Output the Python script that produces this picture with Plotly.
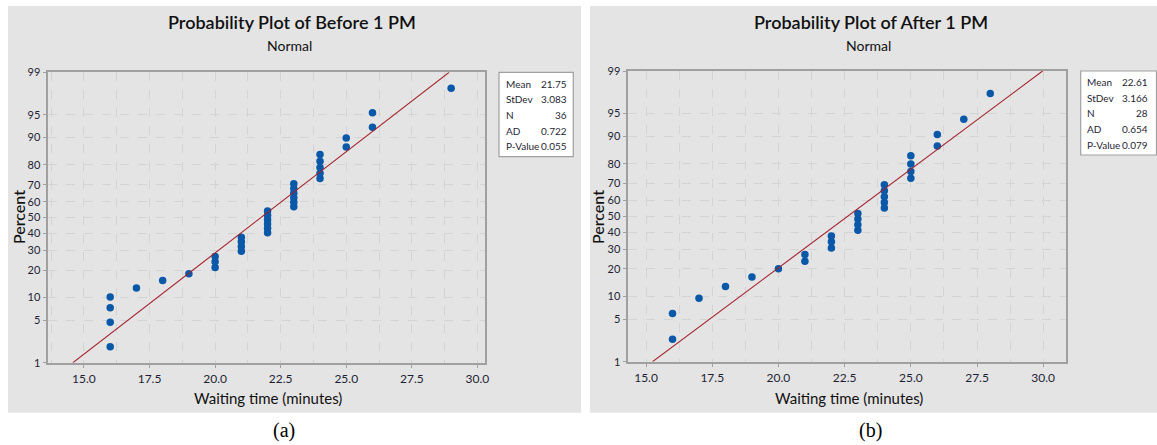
import plotly.graph_objects as go
from statistics import NormalDist

W, H = 1157, 445

# ---------------- data ----------------
before_time = [16, 16, 16, 16, 17, 18, 19, 20, 20, 20, 21, 21, 21, 21,
               22, 22, 22, 22, 22, 22, 23, 23, 23, 23, 23, 23,
               24, 24, 24, 24, 24, 25, 25, 26, 26, 29]
before_pct = [1.92, 4.67, 7.42, 10.16, 12.91, 15.66, 18.41, 21.15, 23.90, 26.65,
              29.40, 32.14, 34.89, 37.64, 40.38, 43.13, 45.88, 48.63, 51.37, 54.12,
              56.87, 59.62, 62.36, 65.11, 67.86, 70.60, 73.35, 76.10, 78.85, 81.59,
              84.34, 87.09, 89.84, 92.58, 95.33, 98.08]
before_stats = {"Mean": "21.75", "StDev": "3.083", "N": "36", "AD": "0.722", "P-Value": "0.055"}
before_mean, before_sd = 21.75, 3.083

after_time = [16, 16, 17, 18, 19, 20, 21, 21, 22, 22, 22, 23, 23, 23, 23,
              24, 24, 24, 24, 24, 25, 25, 25, 25, 26, 26, 27, 28]
after_pct = [2.46, 5.99, 9.51, 13.03, 16.55, 20.07, 23.59, 27.11, 30.63, 34.15,
             37.68, 41.20, 44.72, 48.24, 51.76, 55.28, 58.80, 62.32, 65.85, 69.37,
             72.89, 76.41, 79.93, 83.45, 86.97, 90.49, 94.01, 97.54]
after_stats = {"Mean": "22.61", "StDev": "3.166", "N": "28", "AD": "0.654", "P-Value": "0.079"}
after_mean, after_sd = 22.61, 3.166

pct_ticks = [1, 5, 10, 20, 30, 40, 50, 60, 70, 80, 90, 95, 99]
x_ticks = [15.0, 17.5, 20.0, 22.5, 25.0, 27.5, 30.0]

titles = ["Probability Plot of Before 1 PM", "Probability Plot of After 1 PM"]
captions = ["(a)", "(b)"]
x_title = "Waiting time (minutes)"
y_title = "Percent"

# ---------------- helpers ----------------
nd = NormalDist()
def z(p):
    return nd.inv_cdf(p / 100.0)

def px(x):
    return x / W

def py(y):
    return 1 - y / H

BLUE = "#0a58a8"
RED = "#a3202a"
GRID = "#d4d4d4"
FRAME = "#a0a0a0"
PANEL = "#e4e4e4"
TXT = "#1f1f33"
FONT = "Lato"

panels = [
    dict(panel=(8, 6, 581, 412.7), plot=(48.3, 72.3, 485, 362.7), xr=[13.64, 30.29],
         box=(499, 72.3, 573.3, 156.7), lab_x=503.5, val_x=568.5,
         rows=[84, 99.5, 115, 130.5, 146], title_x=292, cap_x=284,
         ytitle_x=18, xtitle_x=268,
         time=before_time, pct=before_pct, stats=before_stats,
         mean=before_mean, sd=before_sd),
    dict(panel=(590, 6, 1157, 412.7), plot=(628.3, 71, 1066, 361.7), xr=[14.33, 30.86],
         box=(1080.7, 71, 1156.5, 155), lab_x=1085, val_x=1149.5,
         rows=[82.3, 97.8, 113.5, 129, 144.5], title_x=871, cap_x=870,
         ytitle_x=597, xtitle_x=849,
         time=after_time, pct=after_pct, stats=after_stats,
         mean=after_mean, sd=after_sd),
]

fig = go.Figure()
shapes = []
annotations = []
zlo, zhi = z(1), z(99)

for i, p in enumerate(panels):
    xa = "x" if i == 0 else "x2"
    ya = "y" if i == 0 else "y2"
    # points
    fig.add_trace(go.Scatter(
        x=p["time"], y=[z(v) for v in p["pct"]], mode="markers",
        marker=dict(color=BLUE, size=7.5), xaxis=xa, yaxis=ya,
        showlegend=False, hoverinfo="skip"))
    # fitted normal line
    fig.add_trace(go.Scatter(
        x=[p["mean"] + p["sd"] * zlo, p["mean"] + p["sd"] * zhi],
        y=[zlo, zhi], mode="lines", line=dict(color=RED, width=1.1),
        xaxis=xa, yaxis=ya, showlegend=False, hoverinfo="skip", cliponaxis=True))

    x0, y0, x1, y1 = p["panel"]
    shapes.append(dict(type="rect", xref="paper", yref="paper",
                       x0=px(x0), x1=px(x1), y0=py(y1), y1=py(y0),
                       fillcolor=PANEL, line=dict(width=0), layer="below"))
    bx0, by0, bx1, by1 = p["box"]
    shapes.append(dict(type="rect", xref="paper", yref="paper",
                       x0=px(bx0), x1=px(bx1), y0=py(by1), y1=py(by0),
                       fillcolor="white", line=dict(color=FRAME, width=1.2)))
    for (k, v), ry in zip(p["stats"].items(), p["rows"]):
        annotations.append(dict(text=k, x=px(p["lab_x"]), y=py(ry), xref="paper", yref="paper",
                                xanchor="left", yanchor="middle", showarrow=False,
                                font=dict(family=FONT, size=10, color=TXT)))
        annotations.append(dict(text=v, x=px(p["val_x"]), y=py(ry), xref="paper", yref="paper",
                                xanchor="right", yanchor="middle", showarrow=False,
                                font=dict(family=FONT, size=10, color=TXT)))
    # titles
    annotations.append(dict(text=titles[i], x=px(p["title_x"]), y=py(22), xref="paper", yref="paper",
                            xanchor="center", yanchor="middle", showarrow=False,
                            font=dict(family=FONT, size=18, color="#111111", weight=600)))
    annotations.append(dict(text="Normal", x=px(p["title_x"] - 3), y=py(45), xref="paper", yref="paper",
                            xanchor="center", yanchor="middle", showarrow=False,
                            font=dict(family=FONT, size=14, color="#111111")))
    annotations.append(dict(text=captions[i], x=px(p["cap_x"]), y=py(430), xref="paper", yref="paper",
                            xanchor="center", yanchor="middle", showarrow=False,
                            font=dict(family="Liberation Serif", size=20, color="#000000")))
    # axis titles
    annotations.append(dict(text=x_title, x=px(p["xtitle_x"]), y=py(398), xref="paper", yref="paper",
                            xanchor="center", yanchor="middle", showarrow=False,
                            font=dict(family=FONT, size=15, color="#111111")))
    annotations.append(dict(text=y_title, x=px(p["ytitle_x"]), y=py(217), xref="paper", yref="paper",
                            xanchor="center", yanchor="middle", showarrow=False, textangle=-90,
                            font=dict(family=FONT, size=16, color="#111111", weight=500)))

    lx0, ly0, lx1, ly1 = p["plot"]
    axis_common = dict(showline=True, linecolor=FRAME, linewidth=1.5, mirror=True,
                       ticks="outside", ticklen=4, tickcolor=FRAME, zeroline=False,
                       showgrid=True, gridcolor=GRID, griddash="dash", gridwidth=1,
                       automargin=False,
                       tickfont=dict(family=FONT, size=12, color=TXT))
    fig.layout["xaxis" if i == 0 else "xaxis2"] = dict(
        axis_common, domain=[px(lx0), px(lx1)], range=p["xr"],
        tickvals=x_ticks, ticktext=[f"{t:.1f}" for t in x_ticks],
        minor=dict(tick0=15, dtick=1.25, showgrid=True, gridcolor=GRID, griddash="dash", gridwidth=1),
        anchor=ya)
    fig.layout["yaxis" if i == 0 else "yaxis2"] = dict(
        axis_common, domain=[py(ly1), py(ly0)], range=[zlo - 0.0005, zhi + 0.0005],
        tickvals=[z(t) for t in pct_ticks], ticktext=[str(t) for t in pct_ticks],
        anchor=xa, tickfont=dict(family=FONT, size=11, color=TXT))

fig.update_layout(
    width=W, height=H, margin=dict(l=0, r=0, t=0, b=0, autoexpand=False),
    paper_bgcolor="white", plot_bgcolor="white",
    shapes=shapes, annotations=annotations, showlegend=False,
)

fig.write_html("out.html", config={"displayModeBar": False},
               post_script="document.body.style.margin='0px';document.body.style.overflow='hidden';")
